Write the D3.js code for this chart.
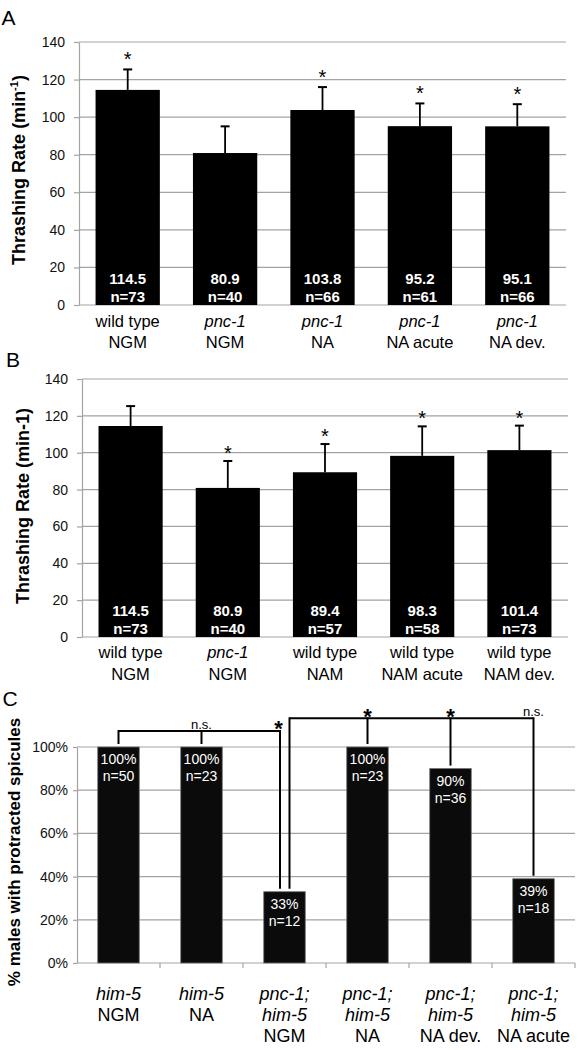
<!DOCTYPE html>
<html><head><meta charset="utf-8">
<script src="https://cdn.jsdelivr.net/npm/d3@7"></script>
<style>body{margin:0;background:#fff;} svg{display:block;} text{font-family:"Liberation Sans",Arial,sans-serif;}</style>
</head><body><svg id="c" width="582" height="1050"></svg>
<script>
// ---- Panel A data ----
const genoA = ["wild type","pnc-1","pnc-1","pnc-1","pnc-1"];
const condA = ["NGM","NGM","NA","NA acute","NA dev."];
const valsA = [114.5,80.9,103.8,95.2,95.1];
const errA  = [10.9,14.2,12.2,12.1,11.8];
const nA    = [73,40,66,61,66];
const sigA  = [true,false,true,true,true];
// ---- Panel B data ----
const genoB = ["wild type","pnc-1","wild type","wild type","wild type"];
const condB = ["NGM","NGM","NAM","NAM acute","NAM dev."];
const valsB = [114.5,80.9,89.4,98.3,101.4];
const errB  = [10.8,14.6,15.3,16.0,13.3];
const nB    = [73,40,57,58,73];
const sigB  = [false,true,true,true,true];
const ticksAB = [0,20,40,60,80,100,120,140];
// ---- Panel C data ----
const genoC = [["him-5"],["him-5"],["pnc-1;","him-5"],["pnc-1;","him-5"],["pnc-1;","him-5"],["pnc-1;","him-5"]];
const condC = ["NGM","NA","NGM","NA","NA dev.","NA acute"];
const valsC = [100,100,33,100,90,39];
const nC    = [50,23,12,23,36,18];
const ticksC = [0,20,40,60,80,100];
// significance brackets (reference bar vs compared bars)
const bracket1 = {ref:2, legs:[0,1], legLabels:["","n.s."], refLabel:"*"};
const bracket2 = {ref:2, legs:[3,4,5], legLabels:["*","*","n.s."], refLabel:""};

const svg = d3.select("#c");
svg.append("rect").attr("width",582).attr("height",1050).attr("fill","#fff");
const GRID = "#a3a3a3";

function barPanel(o){
  const g = svg.append("g");
  const idx = o.vals.map((d,i)=>i);
  const x = d3.scaleBand().domain(idx).range([o.x0,o.x1]).paddingInner(0.34).paddingOuter(0.17);
  const y = d3.scaleLinear().domain([0,140]).range([o.y0,o.yTop]);
  g.selectAll(".grid").data(ticksAB.filter(t=>t>0)).join("line")
    .attr("x1",o.x0).attr("x2",o.x1).attr("y1",d=>y(d)).attr("y2",d=>y(d))
    .attr("stroke",GRID).attr("stroke-width",1.2);
  const ax = g.append("g").attr("transform",`translate(${o.x0},0)`)
    .call(d3.axisLeft(y).tickValues(ticksAB).tickSizeInner(5).tickSizeOuter(0).tickPadding(9));
  ax.select(".domain").attr("stroke",GRID).attr("stroke-width",1.2);
  ax.selectAll(".tick line").attr("stroke",GRID).attr("stroke-width",1.2);
  ax.selectAll(".tick text").attr("font-size",14).attr("fill","#111")
    .attr("font-family","'Liberation Sans',Arial,sans-serif");
  g.append("line").attr("x1",o.x0).attr("x2",o.x1).attr("y1",y(0)).attr("y2",y(0))
    .attr("stroke",GRID).attr("stroke-width",1.2);
  g.selectAll(".bar").data(idx).join("rect")
    .attr("x",i=>x(i)).attr("width",x.bandwidth())
    .attr("y",i=>y(o.vals[i])).attr("height",i=>y(0)-y(o.vals[i])).attr("fill","#000");
  const cx = i=>x(i)+x.bandwidth()/2;
  g.selectAll(".err").data(idx).join("line")
    .attr("x1",cx).attr("x2",cx).attr("y1",i=>y(o.vals[i])).attr("y2",i=>y(o.vals[i]+o.err[i]))
    .attr("stroke","#000").attr("stroke-width",1.8);
  g.selectAll(".cap").data(idx).join("line")
    .attr("x1",i=>cx(i)-4.5).attr("x2",i=>cx(i)+4.5)
    .attr("y1",i=>y(o.vals[i]+o.err[i])).attr("y2",i=>y(o.vals[i]+o.err[i]))
    .attr("stroke","#000").attr("stroke-width",2);
  g.selectAll(".ast").data(idx.filter(i=>o.sig[i])).join("text")
    .attr("x",cx).attr("y",i=>y(o.vals[i]+o.err[i])-o.astOff)
    .attr("text-anchor","middle").attr("font-size",20).attr("fill","#000").text("*");
  g.selectAll(".v").data(idx).join("text")
    .attr("x",cx).attr("y",y(0)-21.5).attr("text-anchor","middle")
    .attr("font-size",15).attr("font-weight","bold").attr("fill","#fff")
    .text(i=>o.vals[i].toFixed(1));
  g.selectAll(".n").data(idx).join("text")
    .attr("x",cx).attr("y",y(0)-3.5).attr("text-anchor","middle")
    .attr("font-size",15).attr("font-weight","bold").attr("fill","#fff")
    .text(i=>"n="+o.n[i]);
  g.selectAll(".geno").data(idx).join("text")
    .attr("x",cx).attr("y",o.lab1).attr("text-anchor","middle").attr("font-size",16.5)
    .attr("font-style",i=>o.geno[i]==="wild type"?"normal":"italic").attr("fill","#000")
    .text(i=>o.geno[i]);
  g.selectAll(".cond").data(idx).join("text")
    .attr("x",cx).attr("y",o.lab2).attr("text-anchor","middle").attr("font-size",16.5)
    .attr("fill","#000").text(i=>o.cond[i]);
  const t = g.append("text").attr("transform",`translate(${o.tx},${o.ty}) rotate(-90)`)
    .attr("text-anchor","middle").attr("font-size",18).attr("font-weight","bold").attr("fill","#000");
  if(o.superscript){
    t.append("tspan").text("Thrashing Rate (min");
    t.append("tspan").attr("font-size",11).attr("dy",-7).text("-1");
    t.append("tspan").attr("dy",7).text(")");
  } else {
    t.text("Thrashing Rate (min-1)");
  }
  g.append("text").attr("x",o.px).attr("y",o.py).attr("font-size",21).attr("fill","#000").text(o.letter);
}

barPanel({vals:valsA,err:errA,n:nA,sig:sigA,geno:genoA,cond:condA,
  x0:79,x1:566,y0:305,yTop:42,astOff:3,lab1:326.5,lab2:348,tx:25,ty:170,superscript:true,
  letter:"A",px:1.5,py:25});
barPanel({vals:valsB,err:errB,n:nB,sig:sigB,geno:genoB,cond:condB,
  x0:82,x1:568,y0:637,yTop:379,astOff:1,lab1:658,lab2:679.5,tx:29,ty:506,superscript:false,
  letter:"B",px:6,py:367});

// ---- Panel C ----
(function(){
  const g = svg.append("g");
  const idx = valsC.map((d,i)=>i);
  const x0=77, x1=575;
  const x = d3.scaleBand().domain(idx).range([x0,x1]).paddingInner(0.5).paddingOuter(0.25);
  const y = d3.scaleLinear().domain([0,100]).range([963,747]);
  const cx = i=>x(i)+x.bandwidth()/2;
  g.selectAll(".grid").data(ticksC.filter(t=>t>0)).join("line")
    .attr("x1",x0).attr("x2",x1).attr("y1",d=>y(d)).attr("y2",d=>y(d))
    .attr("stroke",GRID).attr("stroke-width",1.2);
  const ax = g.append("g").attr("transform",`translate(${x0},0)`)
    .call(d3.axisLeft(y).tickValues(ticksC).tickSizeInner(4).tickSizeOuter(0).tickPadding(5).tickFormat(d=>d+"%"));
  ax.select(".domain").attr("stroke",GRID).attr("stroke-width",1.2);
  ax.selectAll(".tick line").attr("stroke",GRID).attr("stroke-width",1.2);
  ax.selectAll(".tick text").attr("font-size",14).attr("fill","#111")
    .attr("font-family","'Liberation Sans',Arial,sans-serif");
  g.append("line").attr("x1",x0).attr("x2",x1).attr("y1",y(0)).attr("y2",y(0))
    .attr("stroke",GRID).attr("stroke-width",1.2);
  const bounds = idx.map(i=>x(i)-x.step()*0.25).concat([x1]);
  g.selectAll(".bt").data(bounds.slice(1)).join("line")
    .attr("x1",d=>d).attr("x2",d=>d).attr("y1",y(0)).attr("y2",y(0)+5)
    .attr("stroke",GRID).attr("stroke-width",1.2);
  g.selectAll(".bar").data(idx).join("rect")
    .attr("x",i=>x(i)).attr("width",x.bandwidth())
    .attr("y",i=>y(valsC[i])).attr("height",i=>y(0)-y(valsC[i]))
    .attr("fill","#0b0b0b").attr("stroke","#6e6e6e").attr("stroke-width",0.8);
  g.selectAll(".v").data(idx).join("text")
    .attr("x",cx).attr("y",i=>y(valsC[i])+17).attr("text-anchor","middle")
    .attr("font-size",14).attr("fill","#fff").text(i=>valsC[i]+"%");
  g.selectAll(".n").data(idx).join("text")
    .attr("x",cx).attr("y",i=>y(valsC[i])+34).attr("text-anchor","middle")
    .attr("font-size",14).attr("fill","#fff").text(i=>"n="+nC[i]);
  idx.forEach(i=>{
    const lines = genoC[i].map(s=>({s,it:true})).concat([{s:condC[i],it:false}]);
    lines.forEach((l,k)=>{
      g.append("text").attr("x",cx(i)).attr("y",1000+k*21).attr("text-anchor","middle")
        .attr("font-size",18).attr("font-style",l.it?"italic":"normal").attr("fill","#000").text(l.s);
    });
  });
  const gap = 3;
  const lineAttrs = sel=>sel.attr("stroke","#000").attr("stroke-width",2).attr("fill","none");
  function bracket(b, yb, refDx){
    const rx = cx(b.ref)+refDx;
    const xs = b.legs.map(cx);
    const xmin = Math.min(rx,...xs), xmax = Math.max(rx,...xs);
    lineAttrs(g.append("line").attr("x1",xmin).attr("x2",xmax).attr("y1",yb).attr("y2",yb));
    lineAttrs(g.append("line").attr("x1",rx).attr("x2",rx).attr("y1",yb-1).attr("y2",y(valsC[b.ref])-gap));
    b.legs.forEach((j,k)=>{
      lineAttrs(g.append("line").attr("x1",cx(j)).attr("x2",cx(j)).attr("y1",yb-1).attr("y2",y(valsC[j])-gap));
      const lab = b.legLabels[k];
      if(lab==="n.s."){
        g.append("text").attr("x",cx(j)).attr("y",yb-2.5).attr("text-anchor","middle")
          .attr("font-size",13).attr("fill","#000").text(lab);
      } else if(lab){
        g.append("text").attr("x",cx(j)).attr("y",yb+5.5).attr("text-anchor","middle")
          .attr("font-size",22).attr("font-weight","bold").attr("fill","#000").text(lab);
      }
    });
    if(b.refLabel){
      g.append("text").attr("x",rx-1.5).attr("y",yb+4.5).attr("text-anchor","middle")
        .attr("font-size",22).attr("font-weight","bold").attr("fill","#000").text(b.refLabel);
    }
  }
  bracket(bracket1, 731, -4.5);
  bracket(bracket2, 718.3, 5);
  g.append("text").attr("transform","translate(20,852) rotate(-90)").attr("text-anchor","middle")
    .attr("font-size",17).attr("font-weight","bold").attr("fill","#000").text("% males with protracted spicules");
  g.append("text").attr("x",2.5).attr("y",706).attr("font-size",21).attr("fill","#000").text("C");
})();
</script></body></html>
